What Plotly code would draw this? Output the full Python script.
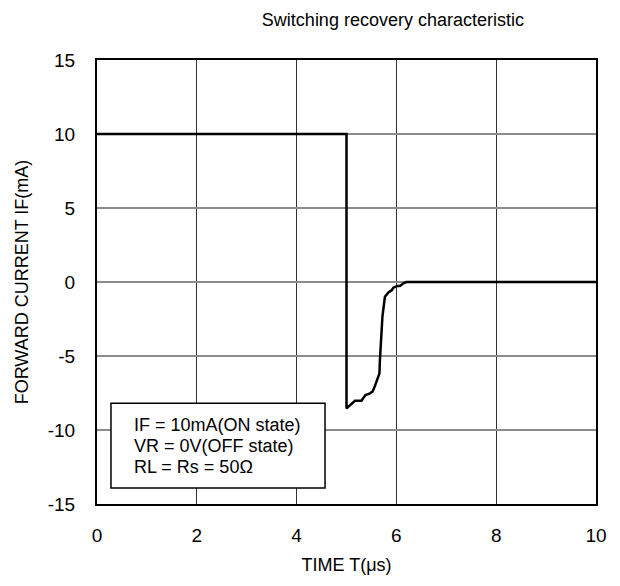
import plotly.graph_objects as go

# Data
time_us = [0.0, 5.0, 5.0, 5.04, 5.09, 5.17, 5.30, 5.34, 5.38, 5.47, 5.52, 5.56, 5.60,
           5.66, 5.67, 5.69, 5.72, 5.77, 5.84, 5.91, 5.94, 6.01, 6.07, 6.14, 6.20, 10.0]
current_ma = [10.0, 10.0, -8.54, -8.42, -8.24, -8.02, -8.02, -7.79, -7.64, -7.52, -7.41,
              -7.12, -6.73, -6.17, -5.27, -4.14, -2.34, -0.99, -0.70, -0.54, -0.38,
              -0.27, -0.27, -0.09, 0.0, 0.0]

x_ticks = [0, 2, 4, 6, 8, 10]
y_ticks = [15, 10, 5, 0, -5, -10, -15]
y_tick_text = ["15", "10", "5", "0", "-5", "-10", "-15"]
note_lines = ["IF = 10mA(ON state)", "VR = 0V(OFF state)", "RL = Rs = 50Ω"]

FONT = "Liberation Sans, Arial, sans-serif"

fig = go.Figure()
fig.add_trace(go.Scatter(x=time_us, y=current_ma, mode="lines",
                         line=dict(color="black", width=2.5), showlegend=False,
                         hoverinfo="skip"))

fig.update_layout(
    width=620, height=586,
    margin=dict(l=89, r=32, t=52, b=90),
    paper_bgcolor="white", plot_bgcolor="white",
    font=dict(family=FONT, size=19, color="black"),
    title=dict(text="Switching recovery characteristic", x=0.593, xref="paper",
               xanchor="center", y=1 - 12 / 586, yref="container", yanchor="middle",
               font=dict(size=18, family=FONT, color="black")),
    showlegend=False,
)

fig.update_xaxes(range=[0, 10], tickvals=x_ticks, ticks="", showgrid=True,
                 gridcolor="#333333", gridwidth=1, showline=True, linecolor="black",
                 linewidth=2, mirror=True, zeroline=False, ticklabelstandoff=13,
                 title=dict(text="TIME T(μs)", font=dict(size=18), standoff=14),
                 tickfont=dict(size=19))
fig.update_yaxes(range=[-15, 15], tickvals=y_ticks, ticktext=y_tick_text, ticks="",
                 showgrid=True, gridcolor="#8c8c8c", gridwidth=2, showline=True,
                 linecolor="black", linewidth=2, mirror=True, zeroline=False,
                 ticklabelstandoff=16,
                 title=dict(text="FORWARD CURRENT IF(mA)", font=dict(size=18), standoff=14),
                 tickfont=dict(size=19))

# Condition box (white, bordered), positioned in data units
fig.add_shape(type="rect", xref="x", yref="y", x0=0.28, x1=4.57, y0=-13.92, y1=-8.2,
              line=dict(color="black", width=1.5), fillcolor="white", layer="above")
for i, line in enumerate(note_lines):
    fig.add_annotation(x=0.70, y=-9.67 - 1.42 * i, xref="x", yref="y", text=line,
                       showarrow=False, xanchor="left", yanchor="middle",
                       font=dict(size=18, family=FONT, color="black"))

fig.write_html("out.html")
